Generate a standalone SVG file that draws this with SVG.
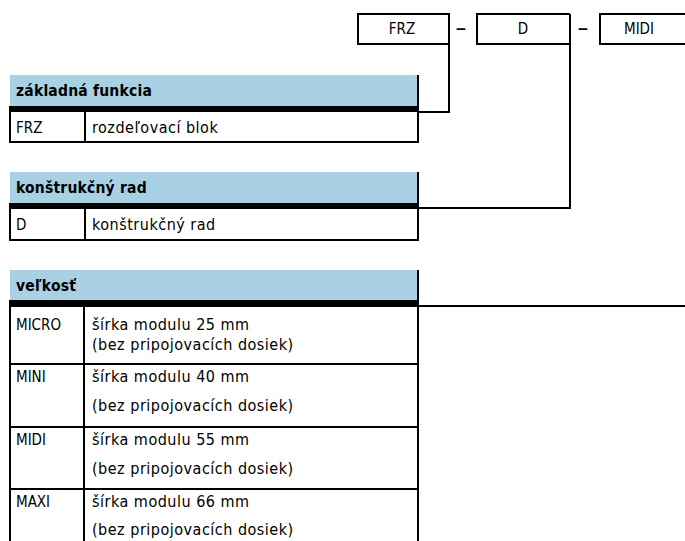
<svg xmlns="http://www.w3.org/2000/svg" width="685" height="541" viewBox="0 0 685 541">
<style>
text{font-family:"Liberation Sans Narrow","DejaVu Sans Condensed","Liberation Sans",sans-serif;font-size:15px;fill:#000}
.h{font-weight:bold;font-size:15.5px;letter-spacing:0.2px}
.d{font-size:16px;letter-spacing:0.5px}
.c{text-anchor:middle}
.dash{font-size:24px}
.hdr{fill:#a8d1e3}
.band{fill:#000}
.ln{stroke:#000;stroke-width:2;fill:none}
</style>
<rect width="685" height="541" fill="#fff"/>
<g id="code">
<g id="box-frz"><path class="ln" d="M449,44 H358 V14 H449 V44"/><text class="c" x="402" y="34">FRZ</text></g>
<text class="c dash" x="461" y="36">–</text>
<g id="box-d"><path class="ln" d="M570,44 H477 V14 H570"/><text class="c" x="523" y="34">D</text></g>
<text class="c dash" x="583" y="36">–</text>
<g id="box-midi"><path class="ln" d="M686,44 H600 V14 H686"/><text class="c" x="639" y="34">MIDI</text></g>
</g>
<g id="connectors">
<path class="ln" d="M449,14 V112 H418"/>
<path class="ln" d="M570,14 V208 H418"/>
<path class="ln" d="M418,306 H686"/>
</g>
<g id="table-funkcia">
<rect class="hdr" x="10" y="75" width="408" height="31"/>
<rect class="band" x="9" y="106" width="410" height="6"/>
<path class="ln" d="M418,75 V142 H10 V112 M85,112 V142"/>
<text class="h" x="16" y="96">základná funkcia</text>
<text x="16" y="133">FRZ</text>
<text class="d" x="92" y="133">rozdeľovací blok</text>
</g>
<g id="table-rad">
<rect class="hdr" x="10" y="172" width="408" height="31"/>
<rect class="band" x="9" y="203" width="410" height="6"/>
<path class="ln" d="M418,172 V240 H10 V209 M85,209 V240"/>
<text class="h" x="16" y="193">konštrukčný rad</text>
<text x="16" y="230">D</text>
<text class="d" x="92" y="230">konštrukčný rad</text>
</g>
<g id="table-velkost">
<rect class="hdr" x="10" y="270" width="408" height="30"/>
<rect class="band" x="9" y="300" width="410" height="7"/>
<path class="ln" d="M418,270 V545 M10,307 V545 M84,307 V545 M10,364 H418 M10,427 H418 M10,489 H418"/>
<text class="h" x="16" y="291">veľkosť</text>
<text x="16" y="330">MICRO</text>
<text class="d" x="92" y="330">šírka modulu 25 mm</text>
<text class="d" x="92" y="350">(bez pripojovacích dosiek)</text>
<text x="16" y="382">MINI</text>
<text class="d" x="92" y="382">šírka modulu 40 mm</text>
<text class="d" x="92" y="411">(bez pripojovacích dosiek)</text>
<text x="16" y="445">MIDI</text>
<text class="d" x="92" y="445">šírka modulu 55 mm</text>
<text class="d" x="92" y="474">(bez pripojovacích dosiek)</text>
<text x="16" y="507">MAXI</text>
<text class="d" x="92" y="507">šírka modulu 66 mm</text>
<text class="d" x="92" y="535">(bez pripojovacích dosiek)</text>
</g>
</svg>
